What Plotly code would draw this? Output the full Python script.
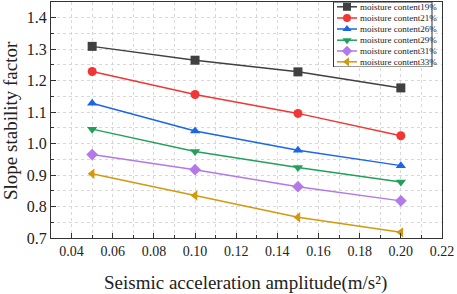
import plotly.graph_objects as go

x_vals = [0.05, 0.10, 0.15, 0.20]
series_names = ["moisture content19%", "moisture content21%", "moisture content26%",
                "moisture content29%", "moisture content31%", "moisture content33%"]
mc19 = [1.309, 1.265, 1.228, 1.177]
mc21 = [1.229, 1.156, 1.096, 1.025]
mc26 = [1.128, 1.040, 0.979, 0.930]
mc29 = [1.046, 0.975, 0.924, 0.878]
mc31 = [0.965, 0.917, 0.863, 0.818]
mc33 = [0.904, 0.835, 0.766, 0.718]
series_values = [mc19, mc21, mc26, mc29, mc31, mc33]

colors = ["#404040", "#f23535", "#1a66e6", "#22a05a", "#b478ea", "#d4980e"]
symbols = ["square", "circle", "triangle-up", "triangle-down", "diamond", "triangle-left"]

serif = "Liberation Serif"
grid_col = "#d8d8d8"

# plot area geometry in pixels
W, H = 457, 294
L, R, T, B = 51, 15, 2, 56
pw, ph = W - L - R, H - T - B


def px_x(p):
    return (p - L) / pw


def px_y(p):
    return (H - B - p) / ph


fig = go.Figure()
for name, vals, c, s in zip(series_names, series_values, colors, symbols):
    fig.add_trace(go.Scatter(
        x=x_vals, y=vals, name=name, mode="lines+markers", showlegend=False,
        line=dict(color=c, width=1.5),
        marker=dict(symbol=s, size=9, color=c),
    ))

# custom compact legend on its own pixel-scaled axes
leg_x0, leg_x1, leg_y0, leg_y1 = 333, 432, 2, 67
leg_rows = [6.8, 18.0, 29.0, 40.2, 51.0, 61.8]
for name, c, s, ry in zip(series_names, colors, symbols, leg_rows):
    fig.add_trace(go.Scatter(
        x=[337, 357], y=[ry, ry], xaxis="x2", yaxis="y2", mode="lines",
        line=dict(color=c, width=1.5), showlegend=False, hoverinfo="skip"))
    fig.add_trace(go.Scatter(
        x=[347], y=[ry], xaxis="x2", yaxis="y2", mode="markers",
        marker=dict(symbol=s, size=8, color=c), showlegend=False, hoverinfo="skip"))
    fig.add_annotation(x=358, y=ry, xref="x2", yref="y2", text=name, showarrow=False,
                       xanchor="left", yanchor="middle",
                       font=dict(family=serif, size=9, color="#222"))

fig.add_shape(type="rect", xref="x2", yref="y2", x0=leg_x0 + 0.5, x1=leg_x1, y0=leg_y0, y1=leg_y1,
              line=dict(color="#333", width=1), fillcolor="white", layer="between")

fig.update_layout(
    width=W, height=H,
    margin=dict(l=L, r=R, t=T, b=B),
    paper_bgcolor="white", plot_bgcolor="white",
    font=dict(family=serif, color="#222"),
    showlegend=False,
    xaxis=dict(
        range=[0.03, 0.22], dtick=0.02, tick0=0.04, tickformat=".2f",
        showline=True, linecolor="#333", linewidth=1, mirror=True,
        ticks="inside", ticklen=5, tickcolor="#333",
        showgrid=True, gridcolor=grid_col, griddash="dot", gridwidth=1,
        minor=dict(dtick=0.01, tick0=0.03, ticks="inside", ticklen=3, tickcolor="#333",
                   showgrid=True, gridcolor=grid_col, griddash="dot"),
        zeroline=False,
        tickfont=dict(family=serif, size=14, color="#222"),
    ),
    yaxis=dict(
        range=[0.7, 1.45], dtick=0.1, tick0=0.7, tickformat=".1f",
        showline=True, linecolor="#333", linewidth=1, mirror=True,
        ticks="inside", ticklen=5, tickcolor="#333",
        showgrid=True, gridcolor=grid_col, griddash="dot", gridwidth=1,
        minor=dict(dtick=0.05, tick0=0.7, ticks="inside", ticklen=3, tickcolor="#333",
                   showgrid=True, gridcolor=grid_col, griddash="dot"),
        zeroline=False,
        tickfont=dict(family=serif, size=16, color="#222"),
    ),
    xaxis2=dict(domain=[px_x(leg_x0), px_x(leg_x1 + 1)], range=[leg_x0, leg_x1 + 1], anchor="y2",
                visible=False, fixedrange=True),
    yaxis2=dict(domain=[px_y(leg_y1), 1.0], range=[leg_y1, leg_y0], anchor="x2",
                visible=False, fixedrange=True),
)

fig.add_annotation(text="Seismic acceleration amplitude(m/s²)", xref="paper", yref="paper",
                   x=px_x(245), y=px_y(283), xanchor="center", yanchor="middle", showarrow=False,
                   font=dict(family=serif, size=19, color="#222"))
fig.add_annotation(text="Slope stability factor", xref="paper", yref="paper",
                   x=px_x(10), y=px_y(121), xanchor="center", yanchor="middle", showarrow=False,
                   textangle=-90, font=dict(family=serif, size=19, color="#222"))

fig.write_html("out.html", config={"displayModeBar": False},
               post_script="document.body.style.margin='0px';document.body.style.overflow='hidden';")
